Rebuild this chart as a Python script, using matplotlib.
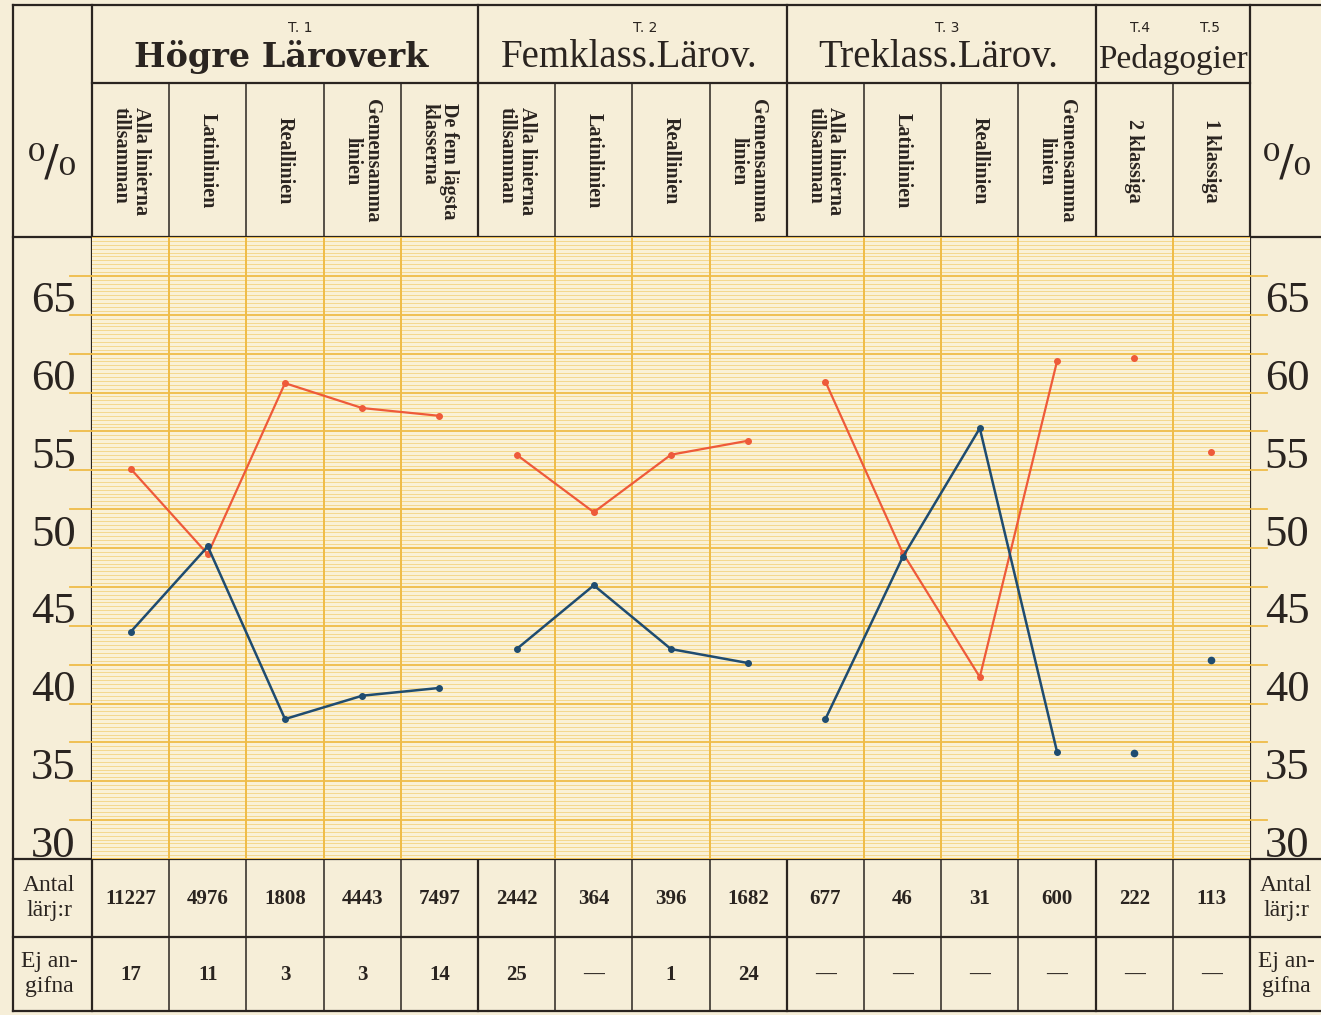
import numpy as np
import matplotlib.pyplot as plt

W, H = 1321, 1015

# values (percent)
groups = ["Högre Läroverk", "Femklass.Lärov.", "Treklass.Lärov.", "Pedagogier"]
group_sizes = [5, 4, 4, 2]
tags = ["T. 1", "T. 2", "T. 3", "T.4", "T.5"]
columns = ["Alla linierna\ntillsamman", "Latinlinien", "Reallinien", "Gemensamma\nlinien",
           "De fem lägsta\nklasserna",
           "Alla linierna\ntillsamman", "Latinlinien", "Reallinien", "Gemensamma\nlinien",
           "Alla linierna\ntillsamman", "Latinlinien", "Reallinien", "Gemensamma\nlinien",
           "2 klassiga", "1 klassiga"]
red = [55.1, 49.6, 60.6, 59.0, 58.5,
       56.0, 52.3, 56.0, 56.9,
       60.7, 49.7, 41.7, 62.0,
       62.2, 56.2]
blue = [44.6, 50.1, 39.0, 40.5, 41.0,
        43.5, 47.6, 43.5, 42.6,
        39.0, 49.4, 57.7, 36.9,
        36.8, 42.8]
antal = ["11227", "4976", "1808", "4443", "7497", "2442", "364", "396", "1682",
         "677", "46", "31", "600", "222", "113"]
ej_angifna = ["17", "11", "3", "3", "14", "25", "—", "1", "24",
              "—", "—", "—", "—", "—", "—"]
yticks = [30, 35, 40, 45, 50, 55, 60, 65]

PAPER = "#f6eed8"
INK = "#2a2420"
RED = "#ee5a3a"
BLUE = "#1f4c70"
YMAJ = "#efbc48"
YMIN = "#f4d88f"
SERIF = "Liberation Serif"

# table geometry in pixels
x0, x1 = 92, 1250
colw = (x1 - x0) / 15
top, hdr, sub, ybot, ymid, yend = 5, 83, 237, 859, 937, 1011

fig = plt.figure(figsize=(W / 100, H / 100), dpi=100, facecolor=PAPER)
bg = fig.add_axes([0, 0, 1, 1])
bg.set_xlim(0, W)
bg.set_ylim(H, 0)
bg.axis("off")

def cx(i):
    return x0 + colw * (i + 0.5)

# table rules
for y in (top, sub, ybot, ymid, yend):
    bg.plot([13, W], [y, y], color=INK, lw=1.6)
bg.plot([x0, x1], [hdr, hdr], color=INK, lw=1.6)
bounds = np.cumsum([0] + group_sizes)
for x in (13, x0, x1):
    bg.plot([x, x], [top, yend], color=INK, lw=1.6)
for b in bounds[1:-1]:
    bg.plot([x0 + b * colw] * 2, [top, yend], color=INK, lw=1.6)
for i in range(1, 15):
    if i in bounds:
        continue
    bg.plot([x0 + i * colw] * 2, [hdr, sub], color=INK, lw=1.1)
    bg.plot([x0 + i * colw] * 2, [ybot, yend], color=INK, lw=1.1)

# group titles and tags
for g, name in enumerate(groups):
    gx = x0 + colw * (bounds[g] + bounds[g + 1]) / 2
    if g == 0:
        bg.text(gx - 4, 67, name, ha="center", va="baseline", fontsize=24,
                family="DejaVu Serif", weight="bold", color=INK)
    elif g == 3:
        bg.text(gx, 68, name, ha="center", va="baseline", fontsize=24,
                family=SERIF, color=INK)
    else:
        bg.text(gx - 3, 67, name, ha="center", va="baseline", fontsize=28,
                family=SERIF, color=INK)
tag_x = [300, 645, 947, 1140, 1210]
for t, tx in zip(tags, tag_x):
    bg.text(tx, 28, t, ha="center", va="center", fontsize=10,
            family="DejaVu Sans", color=INK)

# rotated column headers
for i, c in enumerate(columns):
    align = "center" if c.startswith("Gemensamma") else "left"
    bg.text(cx(i), 161, c, rotation=270, ha="center", va="center",
            multialignment=align, fontsize=14.5, family=SERIF, weight="bold",
            color=INK, linespacing=1.0)

# percent signs
for px in (52, 1287):
    bg.text(px, 162, "⁰/₀", ha="center", va="center", fontsize=31,
            family="DejaVu Serif", color=INK)

# bottom rows
for i in range(15):
    bg.text(cx(i), 899, antal[i], ha="center", va="center", fontsize=15,
            family=SERIF, weight="bold", color=INK)
    bg.text(cx(i), 975, ej_angifna[i], ha="center", va="center", fontsize=15,
            family=SERIF, weight="bold", color=INK)
for px in (49, 1286):
    bg.text(px, 898, "Antal\nlärj:r", ha="center", va="center", fontsize=17,
            family=SERIF, color=INK, linespacing=1.25)
    bg.text(px, 974, "Ej an-\ngifna", ha="center", va="center", fontsize=17,
            family=SERIF, color=INK, linespacing=1.25)

# plot area
ax = fig.add_axes([x0 / W, (H - ybot) / H, (x1 - x0) / W, (ybot - sub) / H])
ax.set_facecolor("#faf1d6")
ax.set_xlim(-0.5, 14.5)
ax.set_ylim(30, 70)
ax.set_xticks([])
ax.set_yticks([])
for s in ax.spines.values():
    s.set_visible(False)

for v in np.arange(30, 70.01, 0.25):
    if v % 2.5 == 0:
        ax.axhline(v, color=YMAJ, lw=1.3, zorder=1)
        if 30 < v < 70:
            ax.plot([-0.79, -0.5], [v, v], color=YMAJ, lw=1.3, clip_on=False)
            ax.plot([14.5, 14.72], [v, v], color=YMAJ, lw=1.3, clip_on=False)
    else:
        ax.axhline(v, color=YMIN, lw=0.72, zorder=1, antialiased=False)
for i in range(1, 15):
    if i in bounds:
        continue
    ax.axvline(i - 0.5, color=YMAJ, lw=1.4, zorder=1)

for v in yticks:
    ax.text(-1.0, v + 0.15, str(v), ha="center", va="baseline", fontsize=32,
            family=SERIF, color=INK, clip_on=False)
    ax.text(14.98, v + 0.15, str(v), ha="center", va="baseline", fontsize=32,
            family=SERIF, color=INK, clip_on=False)

xs = np.arange(15)
for g in range(4):
    sl = slice(bounds[g], bounds[g + 1])
    if group_sizes[g] > 2:
        ax.plot(xs[sl], red[sl], color=RED, lw=1.6, marker="o", ms=4, zorder=3)
        ax.plot(xs[sl], blue[sl], color=BLUE, lw=1.8, marker="o", ms=4, zorder=3)
    else:
        ax.plot(xs[sl], red[sl], color=RED, ls="none", marker="o", ms=4, zorder=3)
        ax.plot(xs[sl], blue[sl], color=BLUE, ls="none", marker="o", ms=4.5, zorder=3)

fig.savefig("out.png", dpi=100, facecolor=PAPER)
